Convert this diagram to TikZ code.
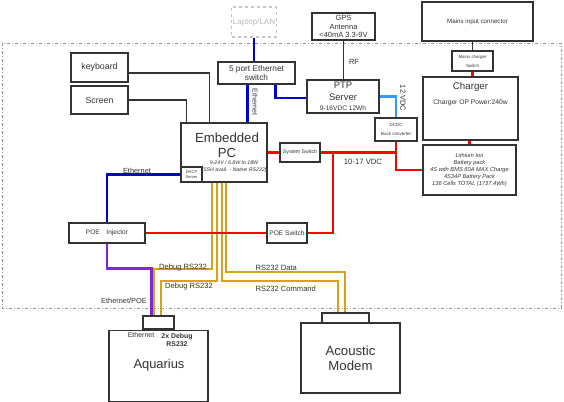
\documentclass[tikz,border=0pt]{standalone}
\usepackage{fontspec}
\setmainfont{Liberation Sans}
\usetikzlibrary{positioning}
\usetikzlibrary{calc}
\definecolor{dgrey}{rgb}{0.2, 0.2, 0.2}
\definecolor{ethblue}{rgb}{0.0, 0.0, 0.85}
\definecolor{pwrred}{rgb}{1.0, 0.0, 0.0}
\definecolor{vdcblue}{rgb}{0.2, 0.6, 1.0}
\definecolor{rsgold}{rgb}{0.85, 0.63, 0.1}
\definecolor{poeviolet}{rgb}{0.5, 0.15, 0.85}
\newcommand{\fsz}[2]{\fontsize{#1}{#2}\selectfont}

\begin{document}
\begin{tikzpicture}[x=1pt, y=-1pt,
    every node/.append style={text=dgrey},
    box/.style={draw=dgrey, line width=1.2pt, inner sep=1pt, align=center},
    wire/.style={draw=dgrey, line width=1.2pt},
    eth/.style={draw=ethblue, line width=2.2pt},
    pwr/.style={draw=pwrred, line width=2.2pt},
    vdc/.style={draw=vdcblue, line width=2.2pt},
    rs/.style={draw=rsgold, line width=2pt},
    poe/.style={draw=poeviolet, line width=2.2pt}]
  \useasboundingbox (0,0) rectangle (564,401);
  \draw [gray!85, line width=0.7pt, dash pattern=on 3pt off 2pt on 1pt off 2pt] (2,43) rectangle (561,308);

  \node [box, draw=gray!45, dashed, text=gray!55, minimum width=44pt, minimum height=30pt, font=\fsz{8}{9}] (lan) at (254,22) {Laptop/LAN};
  \node [box, minimum width=57pt, minimum height=29pt, font=\fsz{8.8}{10}] (kbd) at (99.5,67.5) {keyboard};
  \node [box, minimum width=57pt, minimum height=28pt, font=\fsz{8.8}{10}] (scr) at (99.5,100) {Screen};
  \node [box, minimum width=77pt, minimum height=22pt, font=\fsz{8.3}{9.5}] (sw5) at (256.5,73) {5 port Ethernet\\switch};
  \node [box, minimum width=63pt, minimum height=27pt, font=\fsz{7.5}{8.5}] (gps) at (343.5,26.5) {GPS\\Antenna\\<40mA 3.3-9V};
  \node [box, minimum width=72pt, minimum height=33pt, font=\fsz{9.5}{11.5}] (ptp) at (343,96.5) {PTP\\Server\\[-1.5pt]{\fsz{6.6}{8}9-16VDC 12Wh}};
  \node [box, minimum width=111pt, minimum height=39pt, font=\fsz{6.2}{7}] (mains) at (477.5,21.5) {Mains input connector};
  \node [box, minimum width=41pt, minimum height=20pt, font=\fsz{4.4}{9}] (msw) at (472.5,61) {Mains charger\\Switch};
  \node [box, minimum width=95pt, minimum height=63pt] (chg) at (470.5,108.5) {};
  \node [font=\fsz{9.7}{11}, below=3pt of chg.north] (chgname) {Charger};
  \node [font=\fsz{6.7}{8}] (chgpow) at (470.5,103) {Charger OP Power:240w};
  \node [box, minimum width=42pt, minimum height=23pt, font=\fsz{4.5}{9}] (dcdc) at (396,129.5) {DCDC\\Buck converter};
  \node [box, minimum width=93pt, minimum height=50pt, font=\fsz{5.7}{6.8}\itshape] (bat) at (469.5,170) {Lithium Ion\\Battery pack\\4S with BMS 60A MAX Charge\\4S34P Battery Pack\\136 Cells TOTAL (1737.4Wh)};
  \node [box, minimum width=86pt, minimum height=59pt] (pc) at (224,152.5) {};
  \node [font=\fsz{13.2}{15}, align=center] (pcname) at (227,145.5) {Embedded\\PC};
  \node [font=\fsz{5.2}{7}\itshape, align=center] (pcspec) at (234,166.5) {9-24V / 6.8W to 18W\\(SSH avail. - Native RS232)};
  \node [box, anchor=south west, minimum width=21pt, minimum height=15pt, font=\fsz{4}{5}] (dhcp) at (pc.south west) {DHCP\\Server};
  \node [box, minimum width=40pt, minimum height=19pt, font=\fsz{5.2}{6}] (ssw) at (300,152.5) {System Switch};
  \node [box, minimum width=76pt, minimum height=20pt, font=\fsz{6.6}{8}] (poei) at (107,233) {POE\quad Injector};
  \node [box, minimum width=40pt, minimum height=20pt, font=\fsz{6.6}{8}] (poes) at (287,233) {POE Switch};
  \node [box, minimum width=31pt, minimum height=13pt] (aqc) at (158.5,322.5) {};
  \node [box, anchor=north, minimum width=99pt, minimum height=71pt] (aq) at (aqc.south) {};
  \node [font=\fsz{12.9}{15}] (aqname) at (159,365) {Aquarius};
  \node [font=\fsz{7}{8}] (aqeth) at (141,335) {Ethernet};
  \node [font=\fsz{6.9}{8.5}\bfseries, align=center] (aqdbg) at (177,340) {2x Debug\\RS232};
  \node [box, minimum width=47pt, minimum height=10pt] (mdc) at (345.5,318) {};
  \node [box, minimum width=99pt, minimum height=70pt, font=\fsz{13.2}{15}] (md) at (350.5,358) {Acoustic\\Modem};

  \draw [eth] (lan.south) -- (lan.south |- sw5.north);
  \draw [wire] ($(kbd.east)+(0,5.5)$) -| ($(pc.north west)+(29,0)$);
  \draw [wire] (scr.east) -| ($(pc.north west)+(6,0)$);
  \draw [eth] ($(sw5.south west)+(30,0)$) -- ($(pc.north west)+(67,0)$);
  \draw [eth] ($(sw5.south west)+(58,0)$) |- ($(ptp.west)+(0,1.5)$);
  \draw [wire] (gps.south) -- (gps.south |- ptp.north);
  \draw [vdc] (ptp.east) -| (dcdc.north);
  \draw [wire] (msw.north) -- (msw.north |- mains.south);
  \draw [pwr] (msw.south) -- (msw.south |- chg.north);
  \draw [pwr] (chg.south -| bat.north) -- (bat.north);
  \draw [eth] (dhcp.west) -| (poei.north);
  \draw [poe] (poei.south) |- ($(aqc.north west)+(9,-47)$) -- ($(aqc.north west)+(9,0)$);

  \coordinate (rsa) at ($(pc.south west)+(32,0)$);
  \coordinate (rsb) at ($(pc.south west)+(37,0)$);
  \coordinate (rsc) at ($(pc.south west)+(42,0)$);
  \coordinate (rsd) at ($(pc.south west)+(46,0)$);
  \draw [rs] (rsa) |- ($(aqc.north west)+(12,-46)$) -- ($(aqc.north west)+(12,0)$);
  \draw [rs] (rsb) |- ($(aqc.north west)+(19,-34)$) -- ($(aqc.north west)+(19,0)$);
  \draw [rs] (rsc) |- ($(mdc.north west)+(17,-31)$) -- ($(mdc.north west)+(17,0)$);
  \draw [rs] (rsd) |- ($(mdc.north west)+(24,-40)$) -- ($(mdc.north west)+(24,0)$);

  \coordinate (vjoin) at ($(ssw.east)+(12,0)$);
  \draw [pwr] (pc.east) -- (ssw.west);
  \draw [pwr] (ssw.east) -| (dcdc.south);
  \draw [pwr] (dcdc.south) |- (bat.west);
  \draw [pwr] (vjoin) |- (poes.east);
  \draw [pwr] (poei.east) -- (poes.west);

  \node [rotate=-90, font=\fsz{7}{8}] (swethlbl) at (255,102) {Ethernet};
  \node [font=\fsz{7.5}{9}] (rflbl) at (354,62) {RF};
  \node [rotate=-90, font=\fsz{7.5}{9}] (vdclbl) at (403,98) {12 VDC};
  \node [font=\fsz{7.7}{9}] (busvdclbl) at (363,162) {10-17 VDC};
  \node [font=\fsz{7.4}{9}] (pcethlbl) at (137,171) {Ethernet};
  \node [font=\fsz{7.6}{9}] (dbgalbl) at (183,268) {Debug RS232};
  \node [font=\fsz{7.6}{9}] (dbgblbl) at (189,287) {Debug RS232};
  \node [font=\fsz{7.6}{9}, anchor=west] (datalbl) at (252,268) {RS232 Data};
  \node [font=\fsz{7.6}{9}, anchor=west] (cmdlbl) at (252,289) {RS232 Command};
  \node [font=\fsz{7.4}{9}] (poelbl) at (124,301) {Ethernet/POE};
\end{tikzpicture}
\end{document}
